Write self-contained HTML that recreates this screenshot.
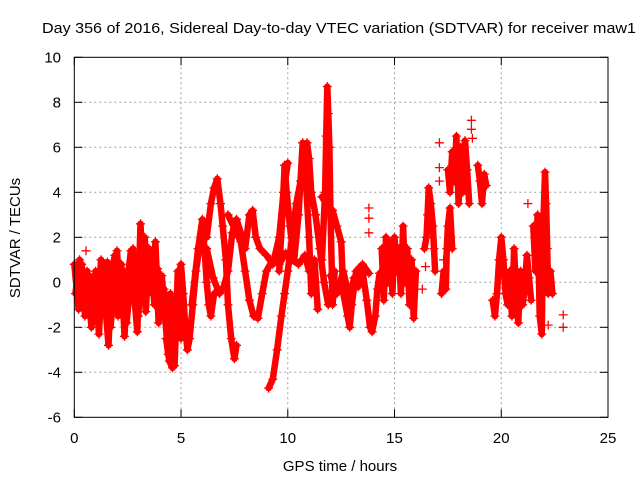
<!DOCTYPE html>
<html><head><meta charset="utf-8">
<style>
html,body{margin:0;padding:0;background:#fff;}
svg{display:block;font-family:"Liberation Sans",Arial,sans-serif;}
</style></head>
<body>
<svg id="chart" width="640" height="480" viewBox="0 0 640 480">
<text x="339" y="33" text-anchor="middle" font-size="15" textLength="594" lengthAdjust="spacingAndGlyphs" fill="#000">Day 356 of 2016, Sidereal Day-to-day VTEC variation (SDTVAR) for receiver maw1</text>
<text x="340" y="471" text-anchor="middle" font-size="15" fill="#000">GPS time / hours</text>
<text transform="translate(20,238) rotate(-90)" text-anchor="middle" font-size="15" fill="#000">SDTVAR / TECUs</text>
<g id="grid"></g>
<g id="ticks"></g>
<g id="marks"></g>
<rect x="74.3" y="57.3" width="533.7" height="360" fill="none" stroke="#000" stroke-width="1"/>
</svg>
<script>
const xTicks = [0, 5, 10, 15, 20, 25];
const yTicks = [-6, -4, -2, 0, 2, 4, 6, 8, 10];
// traces: times (hours) and SDTVAR values (TECU)
const tA = [0.0,0.2,0.35,0.5,0.7,0.85,1.0,1.15,1.3,1.45,1.6,1.75,1.9,2.05,2.2,2.35,2.5,2.65,2.8,2.95,3.1,3.2,3.35,3.5,3.65,3.8,3.95,4.1,4.25,4.4,4.55,4.7,4.85,5.0];
const vA = [0.8,-1.2,0.8,-1.5,0.3,-1.8,0.5,-2.3,0.2,-1.0,-2.8,0.5,1.2,-1.5,0.8,-2.4,0.2,1.4,-0.5,-2.2,2.6,0.5,-1.3,1.5,-0.5,1.8,-1.8,0.3,-1.5,-3.2,-1.0,-3.7,0.5,-2.5];
const tA2 = [0.05,0.25,0.45,0.6,0.8,0.95,1.1,1.25,1.4,1.55,1.7,1.85,2.0,2.15,2.3,2.45,2.6,2.75,2.9,3.0,3.15,3.3,3.45,3.6,3.75,3.9,4.05,4.2,4.35,4.5,4.65,4.8];
const vA2 = [-0.5,1.0,-0.8,0.5,-2.0,-0.3,-1.5,1.0,-0.5,0.9,-2.0,-0.2,1.4,-1.0,0.5,-1.8,-0.3,1.5,-0.8,-1.5,1.0,2.0,-0.3,0.8,-1.0,0.6,-1.2,-0.3,-2.0,-0.5,-2.8,-1.5];
const tB = [4.3,4.45,4.6,4.75,4.9,5.0,5.1,5.2,5.3,5.4,5.55,5.7,5.85,6.0,6.1,6.2,6.3,6.4,6.55];
const vB = [-2.5,-3.5,-3.8,-2.0,0.3,0.8,-0.5,-2.0,-3.0,-2.5,-1.0,0.5,1.5,2.5,1.5,0.0,-1.0,-1.5,-0.5];
const tC = [5.5,5.8,6.0,6.2,6.4,6.55,6.7,6.85,6.95,7.1,7.2,7.35,7.5,7.6];
const vC = [-1.0,1.5,2.8,2.0,3.5,4.2,4.6,3.5,2.5,1.0,-1.0,-2.5,-3.4,-2.8];
const tD = [6.2,6.5,6.8,7.0,7.2,7.4,7.6,7.8,8.0,8.2,8.35,8.5,8.7,9.0,9.3,9.6,9.8,10.0];
const vD = [1.5,0.2,-0.5,-0.2,0.5,2.2,2.8,2.2,1.5,3.0,3.2,2.0,1.5,1.2,0.8,2.0,4.0,5.3];
const tE = [7.2,7.5,7.8,8.0,8.2,8.4,8.6,8.8,9.0,9.3,9.6,9.9,10.2,10.5,10.8,11.0];
const vE = [3.0,2.4,1.8,0.5,-0.8,-1.5,-1.6,-0.5,0.5,1.0,0.8,1.3,1.0,0.8,1.2,0.5];
const tF = [9.1,9.3,9.5,9.7,9.85,10.0,10.2,10.4,10.6,10.8,10.9,11.0,11.1,11.3,11.5,11.7,11.9];
const vF = [-4.7,-4.3,-3.0,-1.5,-0.5,0.5,2.0,3.5,4.5,5.5,6.2,5.5,4.0,3.0,1.5,0.0,-1.0];
const tG = [9.6,9.75,9.85,9.95,10.1,10.3,10.5,10.7,10.85,11.0,11.1,11.25,11.4];
const vG = [0.5,3.0,5.2,4.0,2.5,1.0,3.0,6.2,4.5,2.0,-0.5,1.0,-1.2];
const tH = [11.6,11.75,11.8,11.85,11.9,11.95,12.0,12.1,12.2];
const vH = [1.0,4.0,6.5,8.7,7.5,6.0,3.0,-1.0,0.5];
const tI = [11.6,11.9,12.1,12.3,12.5,12.6,12.8,12.9,13.0,13.2,13.5,13.8];
const vI = [3.8,3.3,3.2,2.5,1.8,-0.5,-1.5,-2.0,-1.0,0.5,0.8,0.4];
const tJ = [12.0,12.3,12.6,12.9,13.1,13.3,13.5,13.7,13.85,13.95,14.1,14.2,14.3];
const vJ = [0.3,-0.5,0.5,-0.8,0.2,-0.2,0.5,-0.8,-2.0,-2.2,-1.5,-0.3,0.4];
const tK = [14.4,14.5,14.6,14.7,14.8,14.9,15.0,15.1,15.2,15.3,15.4,15.5,15.6,15.7,15.8,15.9,16.0];
const vK = [1.5,-0.8,2.0,0.0,1.8,-0.5,2.0,0.5,1.5,-0.5,2.5,0.0,1.5,-1.0,1.0,-1.6,0.5];
const tK2 = [14.45,14.55,14.65,14.75,14.85,14.95,15.05,15.15,15.25,15.35,15.45,15.55,15.65,15.75,15.85];
const vK2 = [0.5,1.0,1.2,0.8,1.3,0.6,1.0,1.4,0.8,1.2,0.5,1.0,0.3,0.8,0.0];
const tL = [16.4,16.5,16.55,16.6,16.7,16.8,16.85,16.9];
const vL = [1.5,2.0,3.0,4.2,3.5,2.5,1.5,0.5];
const tM = [17.2,17.3,17.4,17.45,17.5,17.6,17.7];
const vM = [-0.5,0.5,-0.3,1.5,2.5,3.3,1.5];
const tN = [17.5,17.6,17.7,17.8,17.9,18.0,18.1,18.2,18.3,18.4,18.5];
const vN = [5.0,4.0,5.8,4.5,6.5,3.5,6.0,4.0,6.3,5.0,3.5];
const tO = [18.9,19.0,19.1,19.2,19.3];
const vO = [5.2,4.5,3.5,4.8,4.3];
const tP = [19.6,19.7,19.8,19.9,20.0,20.1,20.2,20.3];
const vP = [-0.8,-1.5,-0.5,1.0,2.0,1.0,-0.5,-1.0];
const tQ = [20.4,20.5,20.6,20.7,20.8,20.9,21.0,21.1,21.2,21.3,21.4];
const vQ = [0.5,-1.5,1.5,-0.5,-1.8,0.5,-1.0,-0.3,1.2,0.2,-0.8];
const tR = [21.5,21.6,21.7,21.8,21.9,21.95,22.05,22.1,22.15,22.2,22.3,22.4];
const vR = [2.5,0.5,3.0,-1.5,-2.3,2.0,4.9,3.5,1.5,-0.5,0.5,-0.5];
// isolated points
const tS = [0.55,13.8,13.8,13.8,16.3,17.1,17.1,17.1,18.6,18.6,18.65,21.25,22.2,22.9,22.9,16.45,17.3];
const vS = [1.4,3.3,2.85,2.2,-0.3,6.2,5.1,4.5,7.2,6.8,6.4,3.5,-1.9,-1.45,-2.0,0.7,1.0];

const series = [[tA,vA],[tA2,vA2],[tB,vB],[tC,vC],[tD,vD],[tE,vE],[tF,vF],[tG,vG],[tH,vH],[tI,vI],[tJ,vJ],[tK,vK],[tK2,vK2],[tL,vL],[tM,vM],[tN,vN],[tO,vO],[tP,vP],[tQ,vQ],[tR,vR]];

const X0=74.3, X1=608, Y0=417.3, Y1=57.3;
function xs(t){return X0+(t-0)/(25-0)*(X1-X0);}
function ys(v){return Y0-(v-(-6))/(10-(-6))*(Y0-Y1);}
const NS="http://www.w3.org/2000/svg";
const grid=document.getElementById('grid'), ticks=document.getElementById('ticks'), marks=document.getElementById('marks');
function mk(tag,attrs,parent){const e=document.createElementNS(NS,tag);for(const k in attrs)e.setAttribute(k,attrs[k]);parent.appendChild(e);return e;}

xTicks.forEach(t=>{
  const x=xs(t);
  if(t>0&&t<25){const g=mk('line',{x1:x,y1:Y1,x2:x,y2:Y0,stroke:'#a0a0a0','stroke-dasharray':'2,3'},grid);
  
  }
  mk('line',{x1:x,y1:Y0,x2:x,y2:Y0-8,stroke:'#000'},ticks);
  mk('line',{x1:x,y1:Y1,x2:x,y2:Y1+8,stroke:'#000'},ticks);
  const l=mk('text',{x:x,y:443,'text-anchor':'middle','font-size':'15'},ticks);
  l.textContent=t;
  
  
});
yTicks.forEach(v=>{
  const y=ys(v);
  if(v>-6&&v<10){const g=mk('line',{x1:X0,y1:y,x2:X1,y2:y,stroke:'#a0a0a0','stroke-dasharray':'2,3'},grid);
  
  }
  mk('line',{x1:X0,y1:y,x2:X0+8,y2:y,stroke:'#000'},ticks);
  mk('line',{x1:X1,y1:y,x2:X1-8,y2:y,stroke:'#000'},ticks);
  const l=mk('text',{x:61,y:y+5,'text-anchor':'end','font-size':'15'},ticks);
  l.textContent=v;
  
  
});

series.forEach((s,si)=>{
  const [ts,vs]=s;
  const pts=ts.map((t,i)=>xs(t).toFixed(1)+','+ys(vs[i]).toFixed(1)).join(' ');
  const pl=mk('polyline',{points:pts,fill:'none',stroke:'#ff0000','stroke-width':6.5,'stroke-linejoin':'round','stroke-linecap':'round'},marks);
  
  
});
function plus(t,v){
  const x=xs(t), y=ys(v);
  const p=mk('path',{d:`M${(x-4.5).toFixed(1)} ${y.toFixed(1)}h9M${x.toFixed(1)} ${(y-4.5).toFixed(1)}v9`,stroke:'#ff0000','stroke-width':1.3,fill:'none'},marks);
  
  
}
series.forEach(s=>{s[0].forEach((t,i)=>plus(t,s[1][i]));});
tS.forEach((t,i)=>plus(t,vS[i]));
</script>
</body></html>
